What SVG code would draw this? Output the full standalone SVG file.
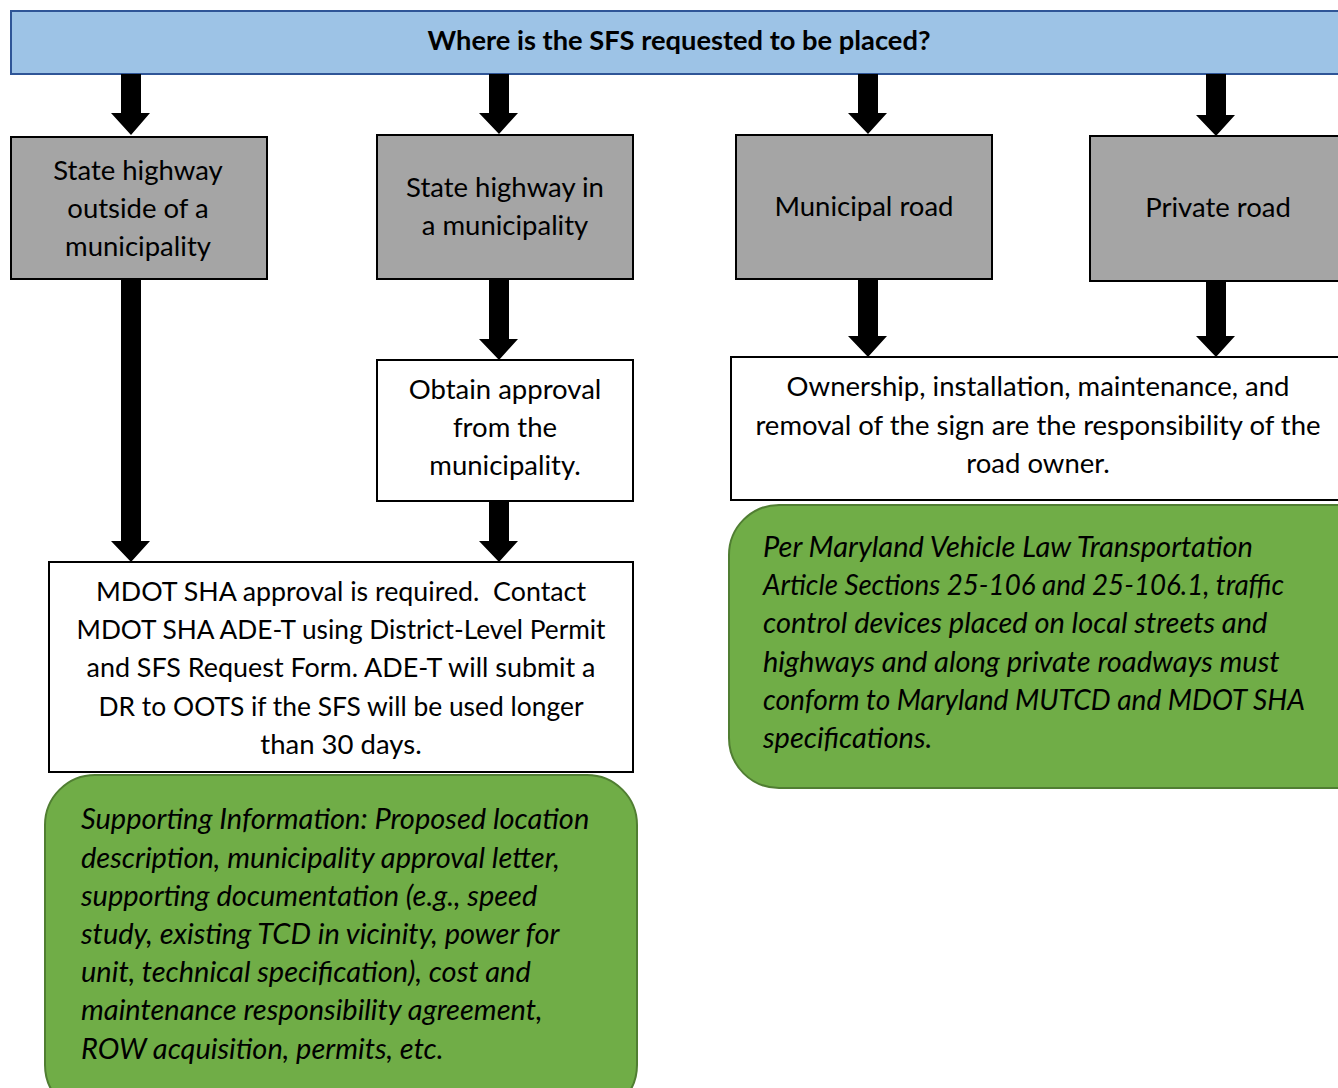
<svg xmlns="http://www.w3.org/2000/svg" width="1338" height="1088" viewBox="0 0 1338 1088">
<style>
.t{font-family:Lato,"Liberation Sans",sans-serif;font-size:27.5px;fill:#000;text-anchor:middle}
.b{font-weight:bold;font-size:27px}
.i{font-family:Lato,"Liberation Sans",sans-serif;font-size:29px;font-style:italic;fill:#000}
.gray{fill:#A5A5A5;stroke:#000;stroke-width:2}
.white{fill:#fff;stroke:#000;stroke-width:2}
.green{fill:#70AD47;stroke:#507E32;stroke-width:2}
.arr{fill:#000}
</style>
<rect width="1338" height="1088" fill="#fff"/>
<g id="top">
<rect x="11" y="11" width="1340" height="63" fill="#9DC3E6" stroke="#2F5597" stroke-width="2"/>
<text class="t b" x="679" y="50" textLength="503" lengthAdjust="spacingAndGlyphs">Where is the SFS requested to be placed?</text>
</g>
<g id="n1">
<rect class="gray" x="11" y="137" width="256" height="142"/>
<text class="t" x="138" y="180">State highway</text>
<text class="t" x="138" y="218">outside of a</text>
<text class="t" x="138" y="256">municipality</text>
</g>
<g id="n2">
<rect class="gray" x="377" y="135" width="256" height="144"/>
<text class="t" x="505" y="197">State highway in</text>
<text class="t" x="505" y="235">a municipality</text>
</g>
<g id="n3">
<rect class="gray" x="736" y="135" width="256" height="144"/>
<text class="t" x="864" y="216">Municipal road</text>
</g>
<g id="n4">
<rect class="gray" x="1090" y="136" width="260" height="145"/>
<text class="t" x="1218" y="217">Private road</text>
</g>
<g id="n5">
<rect class="white" x="377" y="360" width="256" height="141"/>
<text class="t" x="505" y="399">Obtain approval</text>
<text class="t" x="505" y="437">from the</text>
<text class="t" x="505" y="475">municipality.</text>
</g>
<g id="n6">
<rect class="white" x="731" y="357" width="620" height="143"/>
<text class="t" x="1038" y="396">Ownership, installation, maintenance, and</text>
<text class="t" x="1038" y="435">removal of the sign are the responsibility of the</text>
<text class="t" x="1038" y="473">road owner.</text>
</g>
<g id="n7">
<rect class="white" x="49" y="562" width="584" height="210"/>
<text class="t" x="341" y="601" xml:space="preserve" textLength="490" lengthAdjust="spacingAndGlyphs">MDOT SHA approval is required.  Contact</text>
<text class="t" x="341" y="639" textLength="529" lengthAdjust="spacingAndGlyphs">MDOT SHA ADE-T using District-Level Permit</text>
<text class="t" x="341" y="677" textLength="509" lengthAdjust="spacingAndGlyphs">and SFS Request Form. ADE-T will submit a</text>
<text class="t" x="341" y="716" textLength="485" lengthAdjust="spacingAndGlyphs">DR to OOTS if the SFS will be used longer</text>
<text class="t" x="341" y="754">than 30 days.</text>
</g>
<g id="n8">
<rect class="green" x="45" y="775" width="592" height="340" rx="50" ry="50"/>
<text class="i" x="81" y="829">Supporting Information: Proposed location</text>
<text class="i" x="81" y="868">description, municipality approval letter,</text>
<text class="i" x="81" y="906">supporting documentation (e.g., speed</text>
<text class="i" x="81" y="944">study, existing TCD in vicinity, power for</text>
<text class="i" x="81" y="982">unit, technical specification), cost and</text>
<text class="i" x="81" y="1020">maintenance responsibility agreement,</text>
<text class="i" x="81" y="1059">ROW acquisition, permits, etc.</text>
</g>
<g id="n9">
<rect class="green" x="729" y="505" width="660" height="283" rx="50" ry="50"/>
<text class="i" x="763" y="557">Per Maryland Vehicle Law Transportation</text>
<text class="i" x="763" y="595" textLength="521" lengthAdjust="spacingAndGlyphs">Article Sections 25-106 and 25-106.1, traffic</text>
<text class="i" x="763" y="633">control devices placed on local streets and</text>
<text class="i" x="763" y="672">highways and along private roadways must</text>
<text class="i" x="763" y="710" textLength="542" lengthAdjust="spacingAndGlyphs">conform to Maryland MUTCD and MDOT SHA</text>
<text class="i" x="763" y="748">specifications.</text>
</g>
<g id="connectors" class="arr">
<polygon points="121,74 141,74 141,113 150,113 131,135 111,113 121,113"/>
<polygon points="489,74 509,74 509,113 518,113 499,134 479,113 489,113"/>
<polygon points="858,74 878,74 878,113 887,113 868,134 848,113 858,113"/>
<polygon points="1206,74 1226,74 1226,115 1235,115 1216,136 1196,115 1206,115"/>
<polygon points="121,279 141,279 141,541 150,541 131,562 111,541 121,541"/>
<polygon points="489,279 509,279 509,339 518,339 499,360 479,339 489,339"/>
<polygon points="489,501 509,501 509,541 518,541 499,562 479,541 489,541"/>
<polygon points="858,279 878,279 878,336 887,336 868,357 848,336 858,336"/>
<polygon points="1206,281 1226,281 1226,336 1235,336 1216,357 1196,336 1206,336"/>
</g>
</svg>
